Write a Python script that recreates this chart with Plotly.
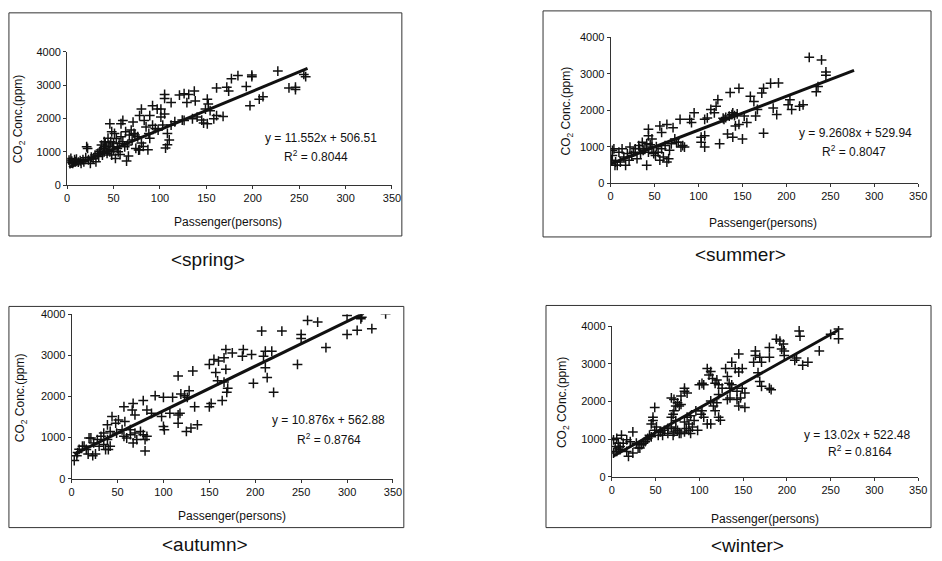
import plotly.graph_objects as go

W, H = 942, 561

# ---------------- data ----------------
seasons = ["spring", "summer", "autumn", "winter"]
captions = ["&lt;spring&gt;", "&lt;summer&gt;", "&lt;autumn&gt;", "&lt;winter&gt;"]
y_titles = ["CO<sub>2</sub> Conc.(ppm)", "CO<sub>2</sub> Conc.(ppm)",
            "CO<sub>2</sub> Conc.(ppm)", "CO<sub>2</sub> COnc.(ppm)"]
x_title = "Passenger(persons)"
slopes = [11.552, 9.2608, 10.876, 13.02]
intercepts = [506.51, 529.94, 562.88, 522.48]
r2_values = ["0.8044", "0.8047", "0.8764", "0.8164"]
eq_texts = ["y = 11.552x + 506.51", "y = 9.2608x + 529.94",
            "y = 10.876x + 562.88", "y = 13.02x + 522.48"]
trend_x_start = [2, 1, 3, 2]
trend_x_end = [259, 277, 318, 259]
x_ticks = [0, 50, 100, 150, 200, 250, 300, 350]
y_ticks = [0, 1000, 2000, 3000, 4000]

spring_pts = [(2,750),(3,680),(4,800),(5,720),(6,650),(8,760),(9,700),(10,780),(12,690),(14,730),
    (15,650),(17,760),(18,700),(20,820),(21,1150),(22,1100),(23,760),(25,650),(26,840),(28,790),
    (30,900),(31,700),(33,950),(34,860),(35,1000),(36,1050),(37,1200),(38,900),(39,1100),(40,1300),
    (40,1000),(41,1260),(42,1150),(43,950),(44,1405),(44,1050),(45,1200),(46,1840),(46,1000),(47,1300),
    (48,1600),(48,900),(49,1150),(50,1260),(50,1050),(51,1550),(52,800),(53,1400),(54,1100),(55,1000),
    (56,1250),(57,915),(58,1840),(58,1450),(60,1940),(60,1300),(62,1150),(63,1600),(64,720),(65,1200),
    (66,870),(67,1500),(69,1650),(70,1350),(71,1890),(72,1550),(73,1500),(74,1100),(76,1450),(77,1050),
    (78,1060),(78,2085),(80,1260),(80,2280),(82,1160),(83,1940),(85,1745),(87,1060),(88,1550),(89,1405),
    (89,2085),(92,1795),(92,2380),(95,1700),(97,2280),(98,1650),(101,2280),(101,2040),(103,1800),(105,2135),
    (105,2600),(105,2720),(106,1110),(108,1210),(108,1550),(110,1355),(112,2475),(112,1800),(116,1900),(121,2700),
    (124,1950),(126,2740),(126,1940),(129,2475),(131,2720),(135,1990),(137,2820),(138,2525),(140,2040),(145,1950),
    (147,1860),(149,2280),(151,1840),(151,2575),(152,2430),(154,2230),(158,1990),(161,2085),(161,2915),(168,2060),
    (172,2935),(174,2820),(177,3190),(184,3285),(193,2960),(197,2380),(199,3300),(199,3250),(207,2575),(211,2650),
    (227,3420),(239,2915),(246,2865),(246,2935),(255,3320),(257,3250)]

summer_pts = [(226,3450),(240,3380),(245,3050),(245,2960),(234,2510),(236,2650),(219,2150),(215,2110),
    (204,2290),(202,2150),(206,2020),(174,2600),(182,2740),(191,2750),(172,2470),(159,2380),(163,2240),
    (167,2020),(165,1840),(185,2060),(189,1880),(174,1370),(146,2600),(136,2485),(152,1840),(155,1660),
    (146,1610),(150,1210),(142,1570),(139,1260),(133,1350),(124,1080),(135,1840),(129,1750),(139,1930),
    (131,1800),(138,1880),(141,1850),(144,1900),(128,1780),
    (122,2290),(120,2110),(114,2020),(110,1790),(107,1750),(118,1930),(107,1300),(103,1120),(107,990),
    (103,1260),(95,1930),(90,1750),(92,1660),(79,1750),(71,1520),(64,1610),(56,1570),(58,1390),(43,1480),
    (43,1300),(47,1210),(82,1030),(84,990),(75,1120),(41,490),(64,580),(66,670),
    (3.7,940),(1.9,760),(5.6,580),(7.5,490),(11,580),(17,490),(21,630),(24,760),(28,940),(32,1030),
    (36,1120),(39,940),(43,850),(47,990),(51,760),(54,850),(58,940),(62,1030),(69,1080),(73,1210),
    (77,1120),(9.4,850),(13,940),(15,720),(19,810),(22,990),(26,850),(30,670),(34,810),(37,900),
    (41,1080),(49,810),(56,630),(60,720),(67,900),(80,990),(1,630),(4.9,490),(2,900),(33,950),(45,1050),(52,1000)]

autumn_pts = [(342,4010),(327,3650),(311,3610),(300,3510),(300,3970),(316,3930),(315,3890),(277,3190),
    (268,3810),(257,3850),(250,3510),(250,3410),(246,2780),(229,3590),(207,3590),(220,2100),(218,3100),
    (211,3100),(209,2980),(211,2700),(213,2460),(198,2320),(187,3140),(196,3020),(186,2980),(175,3060),
    (168,3140),(166,2940),(168,2660),(169,2100),(170,2200),(166,2350),(164,1900),(157,2580),(159,2380),
    (160,2860),(155,2900),(150,2780),(152,1830),(150,1750),(132,2620),(116,2500),(128,2140),(126,1980),
    (134,1750),(123,2020),(119,2060),(110,1980),(100,1980),(91,2020),(107,1590),(98,1510),(116,1550),
    (116,1350),(118,1590),(137,1310),(130,1230),(125,1150),(100,1270),(101,1190),(78,1900),(67,1830),
    (57,1750),(66,1670),(69,1550),(82,1670),(87,1590),(44,1510),(51,1430),(39,1310),(48,1350),(58,1390),
    (64,1190),(69,1110),(60,990),(67,870),(71,950),(78,1070),(80,950),(80,675),(57,1030),(64,1070),
    (75,1150),(82,1030),(55,1190),(49,1110),(42,1150),(35,1110),(32,1030),(28,950),(39,950),(30,790),
    (35,830),(37,710),(40,710),(42,790),(24,870),(21,990),(16,710),(18,600),(23,560),(26,600),
    (6.5,635),(5.7,555),(2.9,440),(8.2,715),(11.8,790),(13.6,790),(19,990)]

winter_pts = [(259,3920),(250,3780),(259,3660),(237,3340),(214,3870),(215,3730),(188,3650),(192,3600),
    (196,3520),(194,3390),(197,3340),(197,3220),(209,3090),(211,3150),(218,2960),(224,3040),(180,3430),
    (180,3170),(164,3340),(164,3220),(169,3170),(171,3040),(162,3040),(167,2760),(169,2530),(180,2350),
    (182,2310),(171,2400),(145,3260),(137,3040),(141,2870),(145,2780),(149,2870),(130,2870),(132,2660),
    (134,2480),(135,2350),(137,2440),(143,2270),(149,2350),(152,2220),(143,2050),(145,1880),(152,1840),
    (147,2090),(132,2050),(135,2090),(120,2570),(122,2440),(118,2480),(126,2350),(122,2180),(109,2870),
    (111,2700),(113,2790),(115,2610),(105,2440),(100,2440),(103,2480),(116,1880),(118,1750),(122,1580),
    (124,1500),(120,1960),(113,2010),(103,1750),(102,1660),(105,1580),(109,1400),(113,1400),(96,1750),
    (90,1620),(94,1490),(86,1580),(83,1450),(88,1400),(92,1320),(83,2270),(83,2350),(86,2220),(79,2140),
    (68,2090),(71,2050),(75,1960),(79,1920),(73,1880),(71,1750),(70,1660),(68,1580),(73,1490),(77,1880),
    (49,1840),(47,1580),(47,1490),(45,1400),(51,1320),(49,1230),(56,1190),(60,1230),(64,1280),(68,1320),
    (71,1190),(75,1230),(79,1150),(83,1190),(85,1280),(88,1230),(64,1150),(70,1100),(77,1150),(73,1280),
    (90,1150),(98,1230),(5.6,670),(7.5,760),(9.4,800),(13,890),(17,980),(21,930),(11,1100),(24,1190),
    (7.5,890),(9.4,720),(19,540),(17,670),(24,630),(30,760),(34,850),(36,890),(38,930),(32,760),
    (28,890),(41,1020),(39,980),(43,1100),(45,1060),(53,1100),(55,1190),(58,1100),(3.8,800),(1.9,980),
    (5.6,1020),(1.9,630)]

all_pts = [spring_pts, summer_pts, autumn_pts, winter_pts]

# ---------------- layout geometry (pixels) ----------------
plot_px = [
    dict(x0=65, x1=394, y0=183, y1=46.7),
    dict(x0=615.5, x1=927, y0=181, y1=32),
    dict(x0=69.5, x1=395, y0=483, y1=315),
    dict(x0=616.7, x1=927, y0=481, y1=327),
]
boxes = [(6, 7, 404, 235), (547, 5, 940, 236), (6, 307, 406, 533), (550, 306, 940, 533)]
caption_pos = [(208, 259), (747, 254), (205, 550), (754, 551)]
ytitle_pos = [(16, 115), (571, 107), (19, 400), (568, 405)]
xtitle_pos = [(228, 221), (770, 222), (232, 521), (772, 524)]
eq_pos = [((322, 135), (317, 153)), ((863, 130), (862, 148)),
          ((330, 423), (330, 442)), ((865, 438), (868, 455))]

def px(x):
    return x / W

def py(y):
    return 1 - y / H

FONT = "Liberation Sans, Arial, sans-serif"
fig = go.Figure()
layout = dict(width=W, height=H, margin=dict(l=0, r=0, t=0, b=0),
              paper_bgcolor="white", plot_bgcolor="white", showlegend=False,
              font=dict(family=FONT, color="#111"))
annotations = []
shapes = []

for i, name in enumerate(seasons):
    n = "" if i == 0 else str(i + 1)
    g = plot_px[i]
    xs = [p[0] for p in all_pts[i]]
    ys = [p[1] for p in all_pts[i]]
    fig.add_trace(go.Scatter(x=xs, y=ys, mode="markers", xaxis="x" + n, yaxis="y" + n,
                             marker=dict(symbol="cross-thin", size=7, color="#111",
                                         line=dict(width=1.5, color="#111")),
                             hoverinfo="x+y"))
    tx = [trend_x_start[i], trend_x_end[i]]
    ty = [slopes[i] * v + intercepts[i] for v in tx]
    fig.add_trace(go.Scatter(x=tx, y=ty, mode="lines", xaxis="x" + n, yaxis="y" + n,
                             line=dict(color="#111", width=3), hoverinfo="skip"))
    axis_common = dict(showgrid=False, zeroline=False, showline=True, linecolor="#333",
                       linewidth=1, ticks="outside", ticklen=3, tickcolor="#333",
                       tickfont=dict(size=11, family=FONT, color="#111"))
    layout["xaxis" + n] = dict(axis_common, domain=[px(g["x0"]), px(g["x1"])],
                               range=[0, 350], tickvals=x_ticks, anchor="y" + n)
    layout["yaxis" + n] = dict(axis_common, domain=[py(g["y0"]), py(g["y1"])],
                               range=[0, 4000], tickvals=y_ticks, anchor="x" + n)
    bx0, by0, bx1, by1 = boxes[i]
    shapes.append(dict(type="rect", xref="paper", yref="paper",
                       x0=px(bx0), x1=px(bx1), y0=py(by1), y1=py(by0),
                       line=dict(color="#333", width=1)))
    cx, cy = caption_pos[i]
    annotations.append(dict(text=captions[i], x=px(cx), y=py(cy), xref="paper", yref="paper",
                            showarrow=False, font=dict(size=19, family=FONT, color="#111"),
                            xanchor="center", yanchor="middle"))
    yx, yy = ytitle_pos[i]
    annotations.append(dict(text=y_titles[i], x=px(yx), y=py(yy), xref="paper", yref="paper",
                            showarrow=False, textangle=-90, font=dict(size=12, family=FONT),
                            xanchor="center", yanchor="middle"))
    xx, xy = xtitle_pos[i]
    annotations.append(dict(text=x_title, x=px(xx), y=py(xy), xref="paper", yref="paper",
                            showarrow=False, font=dict(size=12, family=FONT),
                            xanchor="center", yanchor="middle"))
    (e1x, e1y), (e2x, e2y) = eq_pos[i]
    annotations.append(dict(text=eq_texts[i], x=px(e1x), y=py(e1y), xref="paper", yref="paper",
                            showarrow=False, font=dict(size=12, family=FONT),
                            xanchor="center", yanchor="middle"))
    annotations.append(dict(text="R<sup>2</sup> = " + r2_values[i], x=px(e2x), y=py(e2y),
                            xref="paper", yref="paper", showarrow=False,
                            font=dict(size=12, family=FONT), xanchor="center", yanchor="middle"))

layout["annotations"] = annotations
layout["shapes"] = shapes
fig.update_layout(**layout)
fig.write_html("out.html", config={"displayModeBar": False})

# remove default page margins so the figure sits at the window's top-left corner
with open("out.html", "r", encoding="utf-8") as f:
    html = f.read()
html = html.replace("<head>", "<head><style>html,body{margin:0;padding:0;overflow:hidden;}</style>", 1)
with open("out.html", "w", encoding="utf-8") as f:
    f.write(html)
